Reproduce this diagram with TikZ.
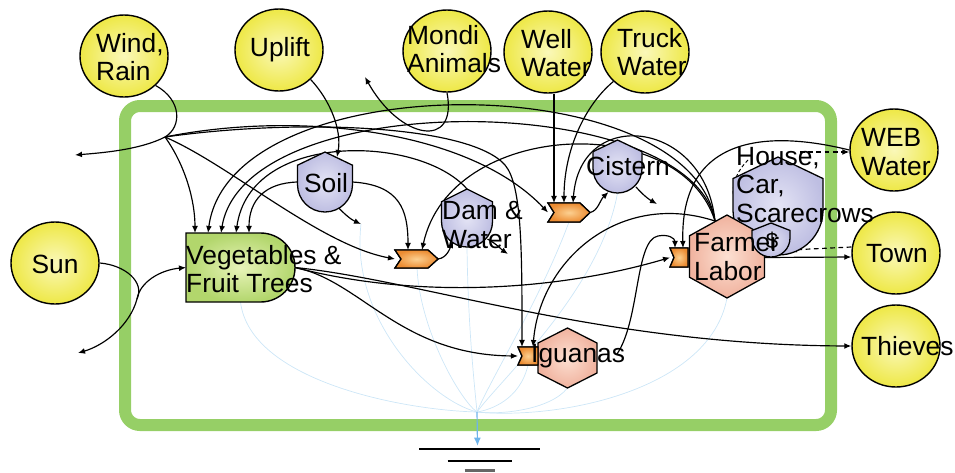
\documentclass[tikz,border=0pt]{standalone}
\usepackage{fontspec}
\setmainfont{Liberation Sans}
\usetikzlibrary{shapes.geometric,arrows.meta,calc}
\definecolor{yOut}{RGB}{238,232,70}
\definecolor{yIn}{RGB}{250,248,185}
\definecolor{gFrame}{RGB}{150,207,102}
\definecolor{vegOut}{RGB}{178,214,108}
\definecolor{vegIn}{RGB}{232,244,185}
\definecolor{lavOut}{RGB}{190,190,226}
\definecolor{lavIn}{RGB}{228,228,245}
\definecolor{pinkOut}{RGB}{240,178,158}
\definecolor{pinkIn}{RGB}{252,224,210}
\definecolor{orOut}{RGB}{236,140,50}
\definecolor{orIn}{RGB}{252,208,145}
\definecolor{heat}{RGB}{205,230,247}
\definecolor{heatArr}{RGB}{110,180,235}
\newcommand*\pxu{0.03cm}
\newcommand\mytank[6]{%
  \node[anchorbox, minimum width={#4*\pxu}, minimum height={#5*\pxu}] (#1) at (#2,{#3+#5/2}) {};
  \path[#6] (#2,#3) -- ({#2+#4/2},{#3+0.22*#5}) -- ({#2+#4/2},{#3+#5-#4/2})
    arc[start angle=0,end angle=-180,radius={#4/2*\pxu}] -- ({#2-#4/2},{#3+0.22*#5}) -- cycle;}
\newcommand\myhex[6]{%
  \node[anchorbox, minimum width={#4*\pxu}, minimum height={#5*\pxu}] (#1) at (#2,#3) {};
  \path[#6] (#2,{#3-#5/2}) -- ({#2+#4/2},{#3-#5/4}) -- ({#2+#4/2},{#3+#5/4}) -- (#2,{#3+#5/2})
    -- ({#2-#4/2},{#3+#5/4}) -- ({#2-#4/2},{#3-#5/4}) -- cycle;}
\newcommand\mygate[7]{%
  \node[anchorbox, minimum width={(#4-#2)*\pxu}, minimum height={(#5-#3)*\pxu}] (#1) at ({(#2+#4)/2},{(#3+#5)/2}) {};
  \path[gatest] (#2,#3) -- ({#4-#6},#3) -- (#4,{(#3+#5)/2}) -- ({#4-#6},#5) -- (#2,#5) -- ({#2+#7},{(#3+#5)/2}) -- cycle;}
\begin{document}
\begin{tikzpicture}[x=0.03cm,y=-0.03cm,
  lbl/.style={font=\fontsize{22.5}{24.5}\selectfont, inner sep=0pt, align=left},
  lblc/.style={lbl, align=center},
  src/.style={ellipse, draw, line width=1.2pt, shading=radial, inner color=yIn, outer color=yOut, inner sep=0pt, minimum width=88*\pxu, minimum height=82*\pxu},
  flow/.style={line width=1pt, -{Latex[length=6pt,width=5pt]}},
  dflow/.style={flow, dash pattern=on 4pt off 3pt},
  heatln/.style={draw=heat, line width=0.6pt},
  tankst/.style={draw, line width=1.1pt, shading=radial, inner color=lavIn, outer color=lavOut},
  hexst/.style={draw, line width=1.1pt, shading=radial, inner color=pinkIn, outer color=pinkOut},
  gatest/.style={draw, line width=1.1pt, shading=radial, inner color=orIn, outer color=orOut},
  vegst/.style={draw, line width=1.2pt, shading=radial, inner color=vegIn, outer color=vegOut},
  anchorbox/.style={inner sep=0pt, outer sep=0pt},
]
\useasboundingbox (0,0) rectangle (955,472);
% system frame
\draw[gFrame, line width=0.36cm, rounded corners=0.45cm] (125,106) rectangle (831,425);

% ---- anchor nodes (invisible boxes) for components
\node[anchorbox, minimum width=109*\pxu, minimum height=69*\pxu] (veg) at (240.5,267.5) {};
\node[anchorbox, minimum width=121*\pxu, minimum height=2pt] (gnd) at (479.5,449) {};

% sources
\node[src] (wind) at (124,56) {};
\node[src] (uplift) at (279,50) {};
\node[src] (mondi) at (447,51) {};
\node[src] (well) at (548,52) {};
\node[src] (truck) at (645,52) {};
\node[src] (web) at (894,150) {};
\node[src] (town) at (896,253) {};
\node[src] (thieves) at (896,346) {};
\node[src] (sun) at (55,263) {};

% storages and consumers: anchors first (drawn later)
\mytank{soil}{325}{152}{55}{60}{}
\mytank{dam}{467}{189}{51}{58}{}
\mytank{cist}{617.5}{140}{49}{53}{}
\mytank{house}{778}{157}{90}{98}{}
\mytank{dollar}{771}{223}{38}{34}{}
\myhex{farmer}{727}{256.5}{75}{83}{}
\myhex{igu}{567.5}{358}{59}{60}{}

% ports
\coordinate (v1) at ($(veg.north west)+(9,0)$);
\coordinate (v2) at ($(veg.north west)+(22,0)$);
\coordinate (v3) at ($(veg.north west)+(35,0)$);
\coordinate (v4) at ($(veg.north west)+(50,0)$);
\coordinate (v5) at ($(veg.north west)+(63,0)$);
\coordinate (W) at (165,137);
\coordinate (S) at (137,299);
\coordinate (windout) at (75,155);
\coordinate (sunout) at (78,353);
\coordinate (mondiout) at (365,77);
\coordinate (soilout) at (361,224);
\coordinate (damout) at (508,254);
\coordinate (cistout) at (657,204);
\coordinate (ftop) at ($(farmer.north)+(-12,6)$);
\coordinate (G) at (477,412);

% ---- heat sink lines
\draw[heatln] (veg.south) .. controls (250,380) and (400,410) .. (G);
\draw[heatln] (soilout) .. controls (350,320) and (430,400) .. (G);
\draw[heatln] (417,268) .. controls (420,330) and (460,400) .. (G);
\draw[heatln] (dam.south) .. controls (468,330) and (475,390) .. (G);
\draw[heatln] (569,222) .. controls (540,300) and (490,380) .. (G);
\draw[heatln] (cist.south) .. controls (600,290) and (500,380) .. (G);
\draw[heatln] (528,365) .. controls (520,400) and (490,410) .. (G);
\draw[heatln] (igu.south) .. controls (550,410) and (500,415) .. (G);
\draw[heatln] (farmer.south) .. controls (710,390) and (560,420) .. (G);
\draw[draw=heatArr, line width=1pt, -{Latex[length=7pt,width=6pt]}] (G) -- ($(gnd.north)+(-2,-2)$);
% ground symbol
\draw[line width=2.2pt] (gnd.west) -- (gnd.east);
\draw[line width=2.2pt] ($(gnd.center)+(-32,12)$) -- ($(gnd.center)+(32,12)$);
\draw[line width=2.2pt, black!60] ($(gnd.center)+(-15,21.5)$) -- ($(gnd.center)+(15,21.5)$);

% ---- gates (anchors + drawing)
\mygate{dami}{395}{250}{438}{268}{10}{6}
\mygate{cisi}{548}{203}{590}{222}{10}{6}
\mygate{farmi}{670}{248}{688}{267}{0}{4}
\mygate{igui}{518}{347}{538}{365}{0}{4}
\coordinate (d1) at ($(dami.north west)+(13,0)$);
\coordinate (d2) at ($(dami.north west)+(27,0)$);
\coordinate (c1) at ($(cisi.north west)+(6,0)$);
\coordinate (c2) at ($(cisi.north west)+(16,0)$);
\coordinate (c3) at ($(cisi.north west)+(25,0)$);
\coordinate (f1) at ($(farmi.north west)+(5,0)$);
\coordinate (f2) at ($(farmi.north west)+(13,0)$);
\coordinate (ig1) at ($(igui.north west)+(4,0)$);
\coordinate (ig2) at ($(igui.north west)+(15,0)$);

% ---- connectors
% wind, rain
\draw[flow] (wind.south east) .. controls (182,100) and (182,127) .. (W) .. controls (140,150) and (100,153) .. (windout);
\draw[flow] (W) .. controls (185,165) and (195,200) .. (v1);
\draw[flow] (W) .. controls (230,165) and (320,245) .. (dami.west);
\draw[flow] (W) .. controls (300,110) and (470,130) .. (cisi.west);
\draw[flow] (W) .. controls (300,118) and (470,125) .. (505,165) .. controls (522,185) and (522,250) .. (ig1);
% mondi animals
\draw[flow] (mondi.south) .. controls (458,150) and (400,140) .. (mondiout);
% uplift
\draw[flow] (uplift.south east) .. controls (330,100) and (342,130) .. ($(soil.north)+(12,5)$);
% sun
\draw[flow] (sun.east) .. controls (125,265) and (145,282) .. (S) .. controls (130,325) and (105,345) .. (sunout);
\draw[flow] (S) .. controls (140,282) and (160,270) .. (veg.west);
% soil
\draw[flow] (soil.west) .. controls (265,183) and (249,200) .. (v5);
\draw[flow] (soil.east) .. controls (400,185) and (408,210) .. (d1);
\draw[flow] ($(soil.south)+(12,-6)$) .. controls (345,215) and (352,220) .. (soilout);
% dam
\draw[flow] (dam.north) .. controls (420,135) and (250,130) .. (v4);
\draw[flow] ($(dam.south east)+(-5,-8)$) .. controls (498,245) and (502,250) .. (damout);
\draw[flow] (dami.east) .. controls (447,258) and (450,248) .. ($(dam.south west)+(12,-6)$);
% cistern
\draw[flow] (cisi.east) .. controls (598,211) and (600,200) .. ($(cist.south)+(-9,-1)$);
\draw[flow] ($(cist.south east)+(-6,-6)$) .. controls (645,197) and (650,200) .. (cistout);
\draw[flow] ($(well.south)+(6,0)$) -- (c1);
\draw[flow] (truck.south west) .. controls (585,105) and (564,150) .. (c2);
% farmer labor feedbacks
\draw[flow] (ftop) .. controls (705,120) and (580,105) .. (c3);
\draw[flow] (ftop) .. controls (690,65) and (230,65) .. (v2);
\draw[flow] (ftop) .. controls (690,90) and (245,85) .. (v3);
\draw[flow] (ftop) .. controls (680,110) and (450,120) .. (d2);
\draw[flow] (ftop) .. controls (620,190) and (540,260) .. (ig2);
% web water, town
\draw[flow] (web.west) .. controls (760,128) and (680,140) .. (f2);
\draw[dflow] ($(house.north)+(22,-5)$) -- ($(web.west)+(0,2)$);
\draw[dflow] ($(town.west)+(0,-6)$) -- ($(dollar.east)+(0,10)$);
\draw[flow] ($(farmer.east)+(0,1)$) -- ($(town.west)+(0,4)$);
\draw[dash pattern=on 3pt off 2pt, line width=0.8pt] ($(house.north west)+(15,3)$) .. controls (728,180) and (728,205) .. ($(dollar.north west)+(-3,0)$);
% vegetables outputs
\draw[flow] (veg.east) .. controls (420,300) and (560,290) .. (farmi.west);
\draw[flow] (veg.east) .. controls (420,280) and (600,345) .. (thieves.west);
\draw[flow] (veg.east) .. controls (360,280) and (400,355) .. (igui.west);
% iguanas to farmer gate
\draw[flow] ($(igu.east)+(20,-4)$) .. controls (640,320) and (635,240) .. (658,236) .. controls (668,234) and (675,238) .. (f1);

% ---- component shapes on top of connectors
\path[vegst] (veg.north west) -- ($(veg.north east)+(-34.5,0)$) arc[start angle=90,end angle=-90,radius=34.5*\pxu] -- (veg.south west) -- cycle;
\mytank{soil}{325}{152}{55}{60}{tankst}
\mytank{dam}{467}{189}{51}{58}{tankst}
\mytank{cist}{617.5}{140}{49}{53}{tankst}
\mytank{house}{778}{157}{90}{98}{tankst}
\myhex{farmer}{727}{256.5}{75}{83}{hexst}
\mytank{dollar}{771}{223}{38}{34}{tankst}
\myhex{igu}{567.5}{358}{59}{60}{hexst}
\mygate{dami}{395}{250}{438}{268}{10}{6}
\mygate{cisi}{548}{203}{590}{222}{10}{6}
\mygate{farmi}{670}{248}{688}{267}{0}{4}
\mygate{igui}{518}{347}{538}{365}{0}{4}

% ---- labels
\node[lbl, anchor=west] (windt) at (96,57) {Wind,\\Rain};
\node[lblc] (upliftt) at (280,50) {Uplift};
\node[lbl, anchor=west] (mondit) at (407,49) {Mondi\\Animals};
\node[lbl, anchor=west] (wellt) at (521,53) {Well\\Water};
\node[lbl, anchor=west] (truckt) at (617,52) {Truck\\Water};
\node[lbl, anchor=west] (webt) at (861,152) {WEB\\Water};
\node[lblc] (townt) at (897,254) {Town};
\node[lbl, anchor=west] (thievest) at (861,346) {Thieves};
\node[lblc] (sunt) at (55,264) {Sun};
\node[lbl, anchor=west] (vegt) at (186,269) {Vegetables \&\\Fruit Trees};
\node[lblc] (soilt) at (326,183) {Soil};
\node[lbl, anchor=west] (damt) at (442,225) {Dam \&\\Water};
\node[lbl, anchor=west] (cistt) at (586,166) {Cistern};
\node[lbl, anchor=west] (houset) at (736,185) {House,\\Car,\\Scarecrows};
\node[lblc, font=\fontsize{19}{21}\selectfont] (dollart) at (772,241) {\$};
\node[lbl, anchor=west] (farmert) at (694,257) {Farmer\\Labor};
\node[lbl, anchor=west] (igut) at (531,356) {Iguanas};
\end{tikzpicture}
\end{document}
